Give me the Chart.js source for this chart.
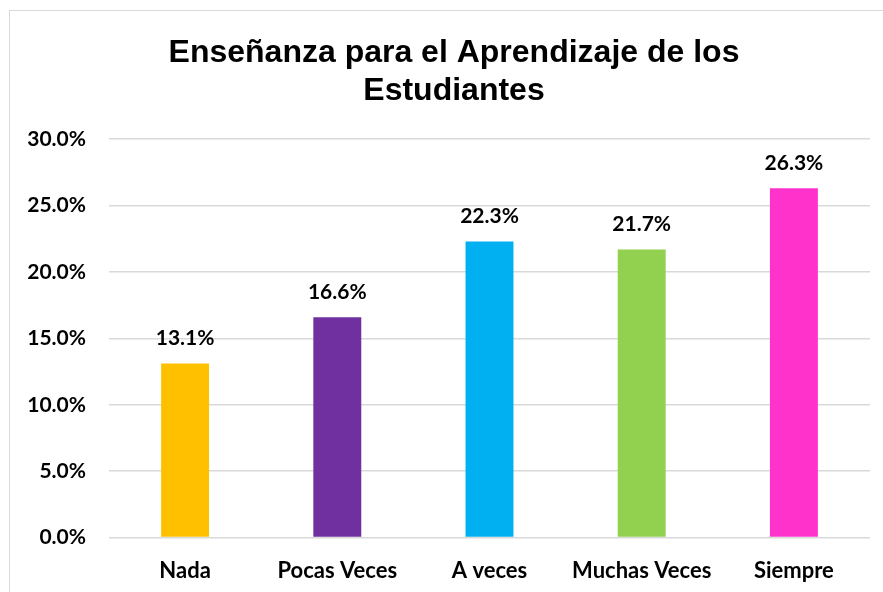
<!DOCTYPE html>
<html>
<head>
<meta charset="utf-8">
<script src="https://cdn.jsdelivr.net/npm/chart.js@4/dist/chart.umd.min.js"></script>
<style>
	html, body { margin: 0; padding: 0; background: #fff; overflow: hidden; width: 883px; height: 592px; }
	#frame { position: absolute; left: 9px; top: 10px; width: 890px; height: 600px; border: 1px solid #d9d9d9; box-sizing: border-box; }
	#chart { display: block; }
</style>
</head>
<body>
<div id="frame"><canvas id="chart" width="888" height="585"></canvas></div>
<script>
// categorias y valores (porcentaje)
var categories = ["Nada", "Pocas Veces", "A veces", "Muchas Veces", "Siempre"];
var values = [13.1, 16.6, 22.3, 21.7, 26.3];
var barColors = ["#FFC000", "#7030A0", "#00B0F0", "#92D050", "#FF33CC"];
var titleLines = ["Enseñanza para el Aprendizaje de los", "Estudiantes"];

var labelFont = "bold 21px Lato";

// etiquetas encima de cada barra
var valueLabels = {
	id: "valueLabels",
	afterLayout: function(chart){
		// que las etiquetas del eje y no se recorten
		chart.scales.y.left = 0;
	},
	afterDatasetsDraw: function(chart){
		var ctx = chart.ctx;
		var meta = chart.getDatasetMeta(0);
		ctx.save();
		ctx.font = labelFont;
		ctx.fillStyle = "#000";
		ctx.textAlign = "center";
		ctx.textBaseline = "middle";
		meta.data.forEach(function(bar, i){
			ctx.fillText(values[i].toFixed(1) + "%", bar.x, bar.y - 25);
		});
		ctx.restore();
	}
};

var ctx = document.getElementById("chart");
var chart = new Chart(ctx, {
	type: "bar",
	data: {
		labels: categories,
		datasets: [{
			data: values,
			backgroundColor: barColors,
			borderWidth: 0,
			categoryPercentage: 1,
			barPercentage: 0.315
		}]
	},
	options: {
		responsive: false,
		animation: false,
		layout: { padding: { left: 28, right: 28, top: 0, bottom: 0 } },
		plugins: {
			legend: { display: false },
			tooltip: { enabled: false },
			title: {
				display: true,
				text: titleLines,
				color: "#000",
				font: { family: "Liberation Sans", size: 32, weight: "bold", lineHeight: 1.19 },
				padding: { top: 23, bottom: 29 }
			}
		},
		scales: {
			x: {
				grid: { display: false },
				border: { display: false },
				ticks: {
					color: "#000",
					font: { family: "Lato", size: 22, weight: "bold" },
					padding: 12,
					maxRotation: 0
				}
			},
			y: {
				min: 0,
				max: 30,
				afterFit: function(scale){ scale.width = 71; },
				grid: { color: "#d9d9d9", lineWidth: 1.5, drawTicks: false },
				border: { display: false },
				ticks: {
					stepSize: 5,
					color: "#000",
					font: { family: "Lato", size: 21, weight: "bold" },
					padding: 23,
					callback: function(v){ return v.toFixed(1) + "%"; }
				}
			}
		}
	},
	plugins: [valueLabels]
});
</script>
</body>
</html>
